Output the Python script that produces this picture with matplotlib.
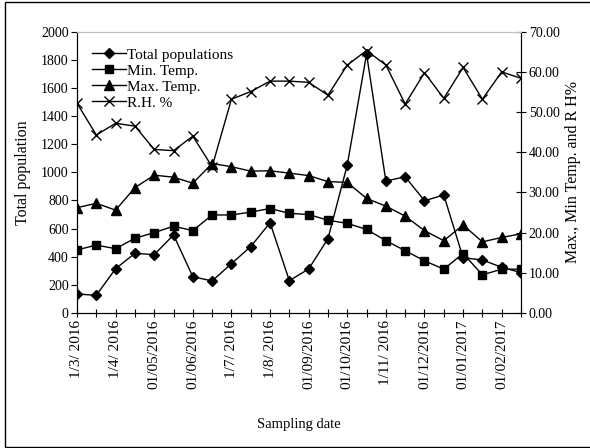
import numpy as np
import matplotlib
matplotlib.use("Agg")
import matplotlib.pyplot as plt
from matplotlib.patches import Rectangle

plt.rcParams['font.family'] = ['Liberation Serif', 'DejaVu Serif']

# tick labels, one for every second sampling
date_labels = ["1/3/ 2016", "1/4/ 2016", "01/05/2016", "01/06/2016", "1/7/ 2016",
               "1/8/ 2016", "01/09/2016", "01/10/2016", "1/11/ 2016", "01/12/2016",
               "01/01/2017", "01/02/2017"]

total_pop = [135, 126, 315, 424, 415, 555, 258, 228, 351, 472, 642, 230,
             313, 528, 1052, 1841, 938, 969, 798, 839, 393, 377, 325, 287]
min_temp = [15.7, 16.9, 16.0, 18.6, 20.0, 21.6, 20.5, 24.4, 24.4, 25.1, 26.0, 24.8,
            24.5, 23.1, 22.3, 20.8, 18.0, 15.5, 13.0, 10.9, 14.8, 9.5, 10.9, 10.9]
max_temp = [26.2, 27.3, 25.6, 31.2, 34.3, 33.8, 32.3, 37.2, 36.4, 35.3, 35.4, 34.8,
            34.2, 32.7, 32.5, 28.5, 26.6, 24.1, 20.5, 18.0, 21.9, 17.7, 18.8, 19.7]
rh = [52.2, 44.3, 47.2, 46.5, 40.7, 40.4, 44.0, 36.4, 53.2, 55.1, 57.7, 57.7,
      57.4, 54.2, 61.7, 65.3, 61.7, 52.0, 59.8, 53.4, 61.1, 53.2, 60.0, 58.4]

x = np.arange(len(total_pop))

fig = plt.figure(figsize=(5.9, 4.48), dpi=100)
ax = fig.add_axes([77/590, 1-313/448, 444/590, 281.3/448])
ax2 = ax.twinx()

lw = 1.0
l1, = ax.plot(x, total_pop, color='black', lw=lw, marker='D', ms=5.5, label="Total populations")
l2, = ax2.plot(x, min_temp, color='black', lw=lw, marker='s', ms=6, label="Min. Temp.")
l3, = ax2.plot(x, max_temp, color='black', lw=lw, marker='^', ms=6.5, label="Max. Temp.")
l4, = ax2.plot(x, rh, color='black', lw=lw, marker='x', ms=7, mew=1.0, label="R.H. %")

ax.set_xlim(0, len(x) - 1)
ax.set_ylim(0, 2000)
ax2.set_ylim(0, 70)
ax.set_yticks(np.arange(0, 2001, 200))
ax2.set_yticks(np.arange(0, 71, 10))
ax2.set_yticklabels(["%.2f" % v for v in np.arange(0, 71, 10)])

ax.set_xticks(x)
ax.set_xticklabels([date_labels[i // 2] if i % 2 == 0 else "" for i in x], rotation=90)

ax.tick_params(axis='y', direction='out', length=4, width=0.8, labelsize=10, pad=2)
ax.tick_params(axis='x', direction='inout', length=6, width=0.8, labelsize=11, pad=2)
ax2.tick_params(axis='y', direction='inout', length=7, width=0.8, labelsize=10, pad=2)

for a in (ax, ax2):
    a.spines['top'].set_color('#c0c0c0')
    a.spines['left'].set_linewidth(0.8)
    a.spines['right'].set_linewidth(0.8)
    a.spines['bottom'].set_linewidth(0.8)

ax.set_ylabel("Total population", fontsize=11.5)
ax.yaxis.set_label_coords(-0.104, 0.5)
ax2.set_ylabel("Max., Min Temp. and R H%", fontsize=11.5)
ax2.yaxis.set_label_coords(1.10, 0.5)
ax.set_xlabel("Sampling date", fontsize=10.5)
ax.xaxis.set_label_coords(0.5, -0.373)

leg = ax2.legend(handles=[l1, l2, l3, l4], loc='upper left', bbox_to_anchor=(0.01, 0.98),
                 frameon=False, fontsize=11, handlelength=2.2, handletextpad=0.05,
                 labelspacing=0.15, borderpad=0.2)

# outer frame round the whole chart
fig.patches.append(Rectangle((5/590, 1.5/448), 1.0, 444/448, transform=fig.transFigure,
                             fill=False, edgecolor='black', lw=1.0))

fig.savefig("out.png", dpi=100)
